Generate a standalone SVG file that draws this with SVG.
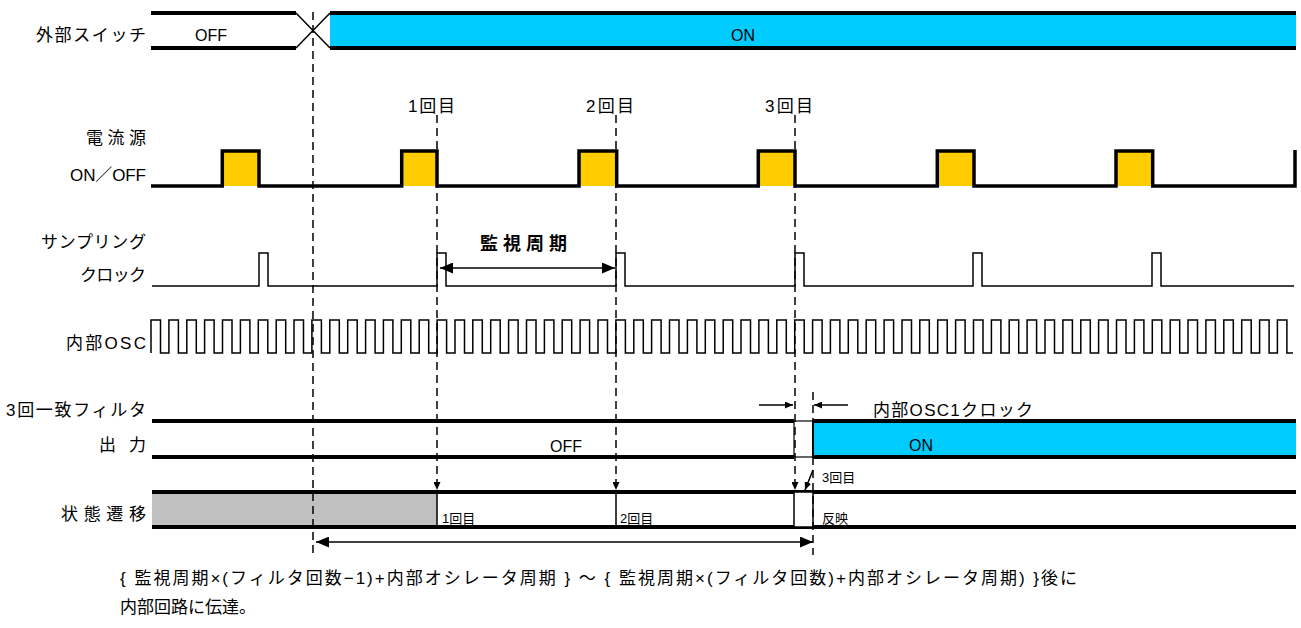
<svg xmlns="http://www.w3.org/2000/svg" width="1301" height="628" viewBox="0 0 1301 628">
<style>
text{font-family:"Liberation Sans","Noto Sans CJK JP",sans-serif;fill:#000}
.lbl{font-size:17px;text-anchor:end}
.big{font-size:17px}
.lat{font-size:16px}
.sm{font-size:13px}
.thick{stroke:#000;stroke-width:4;fill:none}
.pw{stroke:#000;stroke-width:3.5;fill:none}
.thin{stroke:#000;stroke-width:1.5;fill:none}
.dash{stroke:#000;stroke-width:1.5;stroke-dasharray:8 5;fill:none}
.arr{stroke:#000;stroke-width:1.5;fill:none}
</style>
<defs>
<marker id="ah" viewBox="0 0 10 10" refX="10" refY="5" markerWidth="8" markerHeight="7" markerUnits="userSpaceOnUse" orient="auto-start-reverse" preserveAspectRatio="none">
<path d="M0,0 L10,5 L0,10 Z" fill="#000"/>
</marker>
<marker id="ahb" viewBox="0 0 10 10" refX="10" refY="5" markerWidth="13" markerHeight="11" markerUnits="userSpaceOnUse" orient="auto-start-reverse" preserveAspectRatio="none">
<path d="M0,0 L10,5 L0,10 Z" fill="#000"/>
</marker>
</defs>

<g id="switch">
<text class="lbl" x="146" y="41" textLength="110">外部スイッチ</text>
<line class="thick" x1="151" y1="13" x2="296" y2="13"/>
<line class="thick" x1="151" y1="48" x2="296" y2="48"/>
<line class="thin" x1="296" y1="13" x2="330" y2="48"/>
<line class="thin" x1="296" y1="48" x2="330" y2="13"/>
<rect x="330" y="13" width="966" height="35" fill="#00CCFF"/>
<line class="thick" x1="330" y1="13" x2="1296" y2="13"/>
<line class="thick" x1="330" y1="48" x2="1296" y2="48"/>
<text class="lat" x="211" y="41" text-anchor="middle">OFF</text>
<text class="lat" x="743" y="41" text-anchor="middle">ON</text>
</g>

<g id="power">
<text class="lbl" x="146" y="144" textLength="60">電流源</text>
<text class="lbl" x="146" y="181" textLength="76">ON／OFF</text>
<g fill="#FFCC00">
<rect x="222.3" y="151" width="36.7" height="35"/>
<rect x="401.7" y="151" width="35.3" height="35"/>
<rect x="579" y="151" width="37.7" height="35"/>
<rect x="758.3" y="151" width="36.7" height="35"/>
<rect x="937.3" y="151" width="36.7" height="35"/>
<rect x="1116" y="151" width="36.7" height="35"/>
</g>
<path class="pw" d="M151,186 H222.3 V151 H259 V186 H401.7 V151 H437 V186 H579 V151 H616.7 V186 H758.3 V151 H795 V186 H937.3 V151 H974 V186 H1116 V151 H1152.7 V186 H1295 V150"/>
<text class="big" x="408" y="112" textLength="47">1回目</text>
<text class="big" x="586" y="112" textLength="48">2回目</text>
<text class="big" x="765" y="112" textLength="48">3回目</text>
</g>

<g id="sampling">
<text class="lbl" x="146" y="248" textLength="105">サンプリング</text>
<text class="lbl" x="146" y="281" textLength="66">クロック</text>
<path class="thin" d="M152,286 H259 V253 H268 V286 H437 V253 H446 V286 H616 V253 H625 V286 H795 V253 H804 V286 H973 V253 H982 V286 H1152 V253 H1161 V286 H1294"/>
<text x="480" y="249.5" font-size="18" font-weight="bold" textLength="87">監視周期</text>
</g>

<g id="osc">
<text class="lbl" x="146" y="349" textLength="80">内部OSC</text>
<path class="thin" d="M151,353 V320 H160.5 V353 H168.9 V320 H178.4 V353 H186.8 V320 H196.3 V353 H204.6 V320 H214.1 V353 H222.5 V320 H232 V353 H240.4 V320 H249.9 V353 H258.3 V320 H267.8 V353 H276.2 V320 H285.7 V353 H294 V320 H303.5 V353 H311.9 V320 H321.4 V353 H329.8 V320 H339.3 V353 H347.7 V320 H357.2 V353 H365.6 V320 H375.1 V353 H383.4 V320 H392.9 V353 H401.3 V320 H410.8 V353 H419.2 V320 H428.7 V353 H437.1 V320 H446.6 V353 H455 V320 H464.5 V353 H472.8 V320 H482.3 V353 H490.7 V320 H500.2 V353 H508.6 V320 H518.1 V353 H526.5 V320 H536 V353 H544.4 V320 H553.9 V353 H562.2 V320 H571.7 V353 H580.1 V320 H589.6 V353 H598 V320 H607.5 V353 H615.9 V320 H625.4 V353 H633.8 V320 H643.3 V353 H651.6 V320 H661.1 V353 H669.5 V320 H679 V353 H687.4 V320 H696.9 V353 H705.3 V320 H714.8 V353 H723.2 V320 H732.7 V353 H741 V320 H750.5 V353 H758.9 V320 H768.4 V353 H776.8 V320 H786.3 V353 H794.7 V320 H804.2 V353 H812.6 V320 H822.1 V353 H830.4 V320 H839.9 V353 H848.3 V320 H857.8 V353 H866.2 V320 H875.7 V353 H884.1 V320 H893.6 V353 H902 V320 H911.5 V353 H919.8 V320 H929.3 V353 H937.7 V320 H947.2 V353 H955.6 V320 H965.1 V353 H973.5 V320 H983 V353 H991.4 V320 H1000.9 V353 H1009.2 V320 H1018.7 V353 H1027.1 V320 H1036.6 V353 H1045 V320 H1054.5 V353 H1062.9 V320 H1072.4 V353 H1080.8 V320 H1090.3 V353 H1098.6 V320 H1108.1 V353 H1116.5 V320 H1126 V353 H1134.4 V320 H1143.9 V353 H1152.3 V320 H1161.8 V353 H1170.2 V320 H1179.7 V353 H1188 V320 H1197.5 V353 H1205.9 V320 H1215.4 V353 H1223.8 V320 H1233.3 V353 H1241.7 V320 H1251.2 V353 H1259.6 V320 H1269.1 V353 H1277.4 V320 H1286.9 V353 H1293"/>
</g>

<g id="filter">
<text class="lbl" x="146" y="416" textLength="140">3回一致フィルタ</text>
<text class="lbl" x="146" y="451" textLength="47">出力</text>
<rect x="813" y="421" width="483" height="36" fill="#00CCFF"/>
<line class="thick" x1="152" y1="421" x2="794" y2="421"/>
<line class="thick" x1="152" y1="457" x2="794" y2="457"/>
<line class="thick" x1="813" y1="421" x2="1296" y2="421"/>
<line class="thick" x1="813" y1="457" x2="1296" y2="457"/>
<rect x="794" y="421" width="19" height="36" fill="none" stroke="#000" stroke-width="1.2"/>
<line x1="813" y1="420" x2="813" y2="458" stroke="#000" stroke-width="2"/>
<text class="lat" x="566" y="451.5" text-anchor="middle">OFF</text>
<text class="lat" x="921" y="451" text-anchor="middle">ON</text>
<text class="big" x="873" y="416" textLength="160">内部OSC1クロック</text>
</g>

<g id="state">
<text class="lbl" x="146" y="520" textLength="85">状態遷移</text>
<rect x="152" y="492" width="285" height="35" fill="#C0C0C0"/>
<line class="thick" x1="152" y1="492" x2="1296" y2="492"/>
<line class="thick" x1="152" y1="527" x2="1296" y2="527"/>
<line class="thin" x1="437" y1="492" x2="437" y2="527"/>
<line class="thin" x1="616" y1="492" x2="616" y2="527"/>
<rect x="794" y="492" width="19" height="35" fill="#fff" stroke="#000" stroke-width="1.5"/>
<text class="sm" x="442" y="523">1回目</text>
<text class="sm" x="620" y="523">2回目</text>
<text class="sm" x="822" y="482">3回目</text>
<text class="sm" x="822" y="523">反映</text>
</g>

<g id="connectors">
<line class="dash" x1="313" y1="12" x2="313" y2="556"/>
<line class="dash" x1="437" y1="115" x2="437" y2="490" marker-end="url(#ah)"/>
<line class="dash" x1="616" y1="115" x2="616" y2="490" marker-end="url(#ah)"/>
<line class="dash" x1="795" y1="115" x2="795" y2="490" marker-end="url(#ah)"/>
<line class="dash" x1="813" y1="392" x2="813" y2="555"/>
<line class="arr" x1="813" y1="470" x2="805" y2="490" marker-end="url(#ah)"/>
<line class="arr" x1="759" y1="405" x2="793" y2="405" marker-end="url(#ah)"/>
<line class="arr" x1="848" y1="405" x2="814" y2="405" marker-end="url(#ah)"/>
<line class="arr" x1="440" y1="268" x2="615" y2="268" marker-start="url(#ahb)" marker-end="url(#ahb)"/>
<line class="arr" x1="316" y1="542" x2="813" y2="542" marker-start="url(#ahb)" marker-end="url(#ahb)"/>
</g>

<g id="note">
<text class="big" x="120" y="584" textLength="957">{ 監視周期×(フィルタ回数−1)+内部オシレータ周期 } ～ { 監視周期×(フィルタ回数)+内部オシレータ周期) }後に</text>
<text class="big" x="120" y="613">内部回路に伝達。</text>
</g>
</svg>
